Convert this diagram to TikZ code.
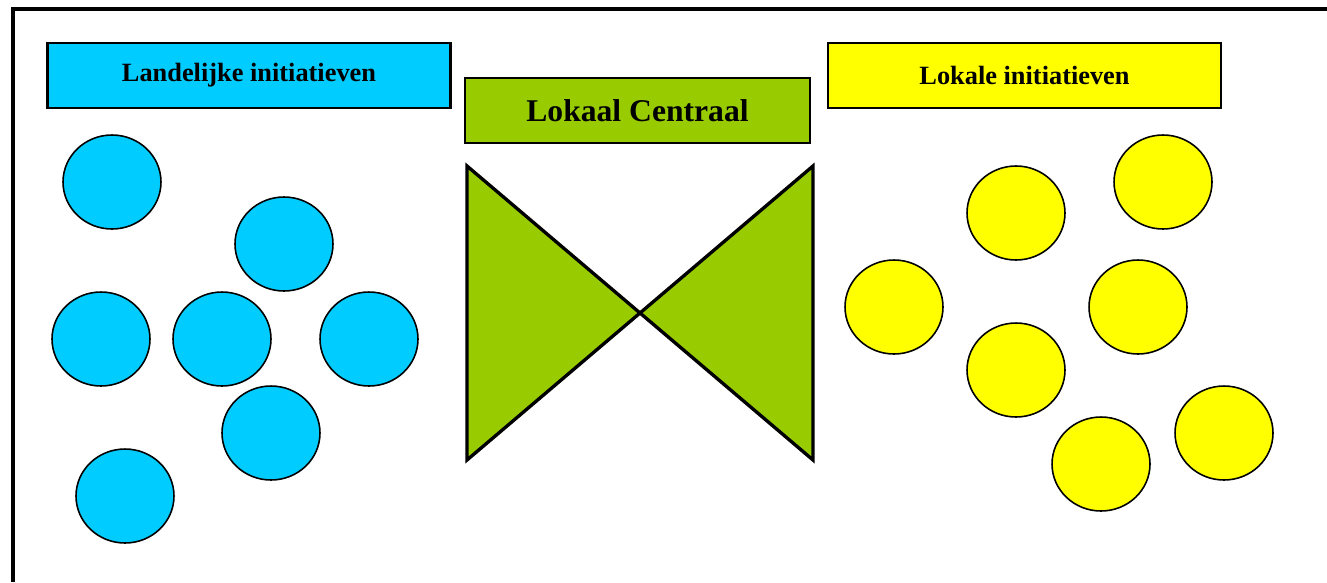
\documentclass[tikz,border=0pt]{standalone}
\usepackage{fontspec}
\setmainfont{Liberation Serif}
\usetikzlibrary{shapes.geometric}
\definecolor{lcyan}{RGB}{0,204,255}
\definecolor{lgreen}{RGB}{153,204,0}
\definecolor{lyellow}{RGB}{255,255,0}
\tikzset{
  titlebox/.style={draw=black,line width=1.2pt,inner sep=0pt,minimum height=1.3cm,font=\bfseries\fontsize{15}{18}\selectfont},
  dot/.style={ellipse,draw=black,line width=0.9pt,inner sep=0pt,minimum width=1.96cm,minimum height=1.88cm},
}
\begin{document}
\begin{tikzpicture}[x=0.02cm,y=-0.02cm]
      \useasboundingbox (0,0) rectangle (1327,582);
      %cornice
      \draw[line width=2pt] (13,582) -- (13,9) -- (1327,9);
      %titoli
      \node[titlebox,fill=lcyan,minimum width=8.06cm] (landelijk) at (249,75.5) {Landelijke initiatieven};
      \node[titlebox,fill=lgreen,minimum width=6.9cm,font=\bfseries\fontsize{18}{22}\selectfont] (centraal) at (637.5,110.5) {Lokaal Centraal};
      \node[titlebox,fill=lyellow,minimum width=7.86cm] (lokaal) at (1024.5,75.5) {Lokale initiatieven};
      %vlinder
      \coordinate (lt) at (467,166);
      \coordinate (lb) at (467,460);
      \coordinate (rt) at (813,166);
      \coordinate (rb) at (813,460);
      \coordinate (mid) at (640,313);
      \draw[line width=1.9pt,fill=lgreen,line join=miter] (lt) -- (mid) -- (lb) -- cycle;
      \draw[line width=1.9pt,fill=lgreen,line join=miter] (rt) -- (mid) -- (rb) -- cycle;
      %bolletjes
      \foreach \x/\y [count=\i] in {112/182,284/244,101/339,222/339,369/339,271/433,125/496}
        \node[dot,fill=lcyan] (land\i) at (\x,\y) {};
      \foreach \x/\y [count=\i] in {1016/213,1163/182,894/307,1138/307,1016/370,1224/433,1101/464}
        \node[dot,fill=lyellow] (lok\i) at (\x,\y) {};
    \end{tikzpicture}
\end{document}
